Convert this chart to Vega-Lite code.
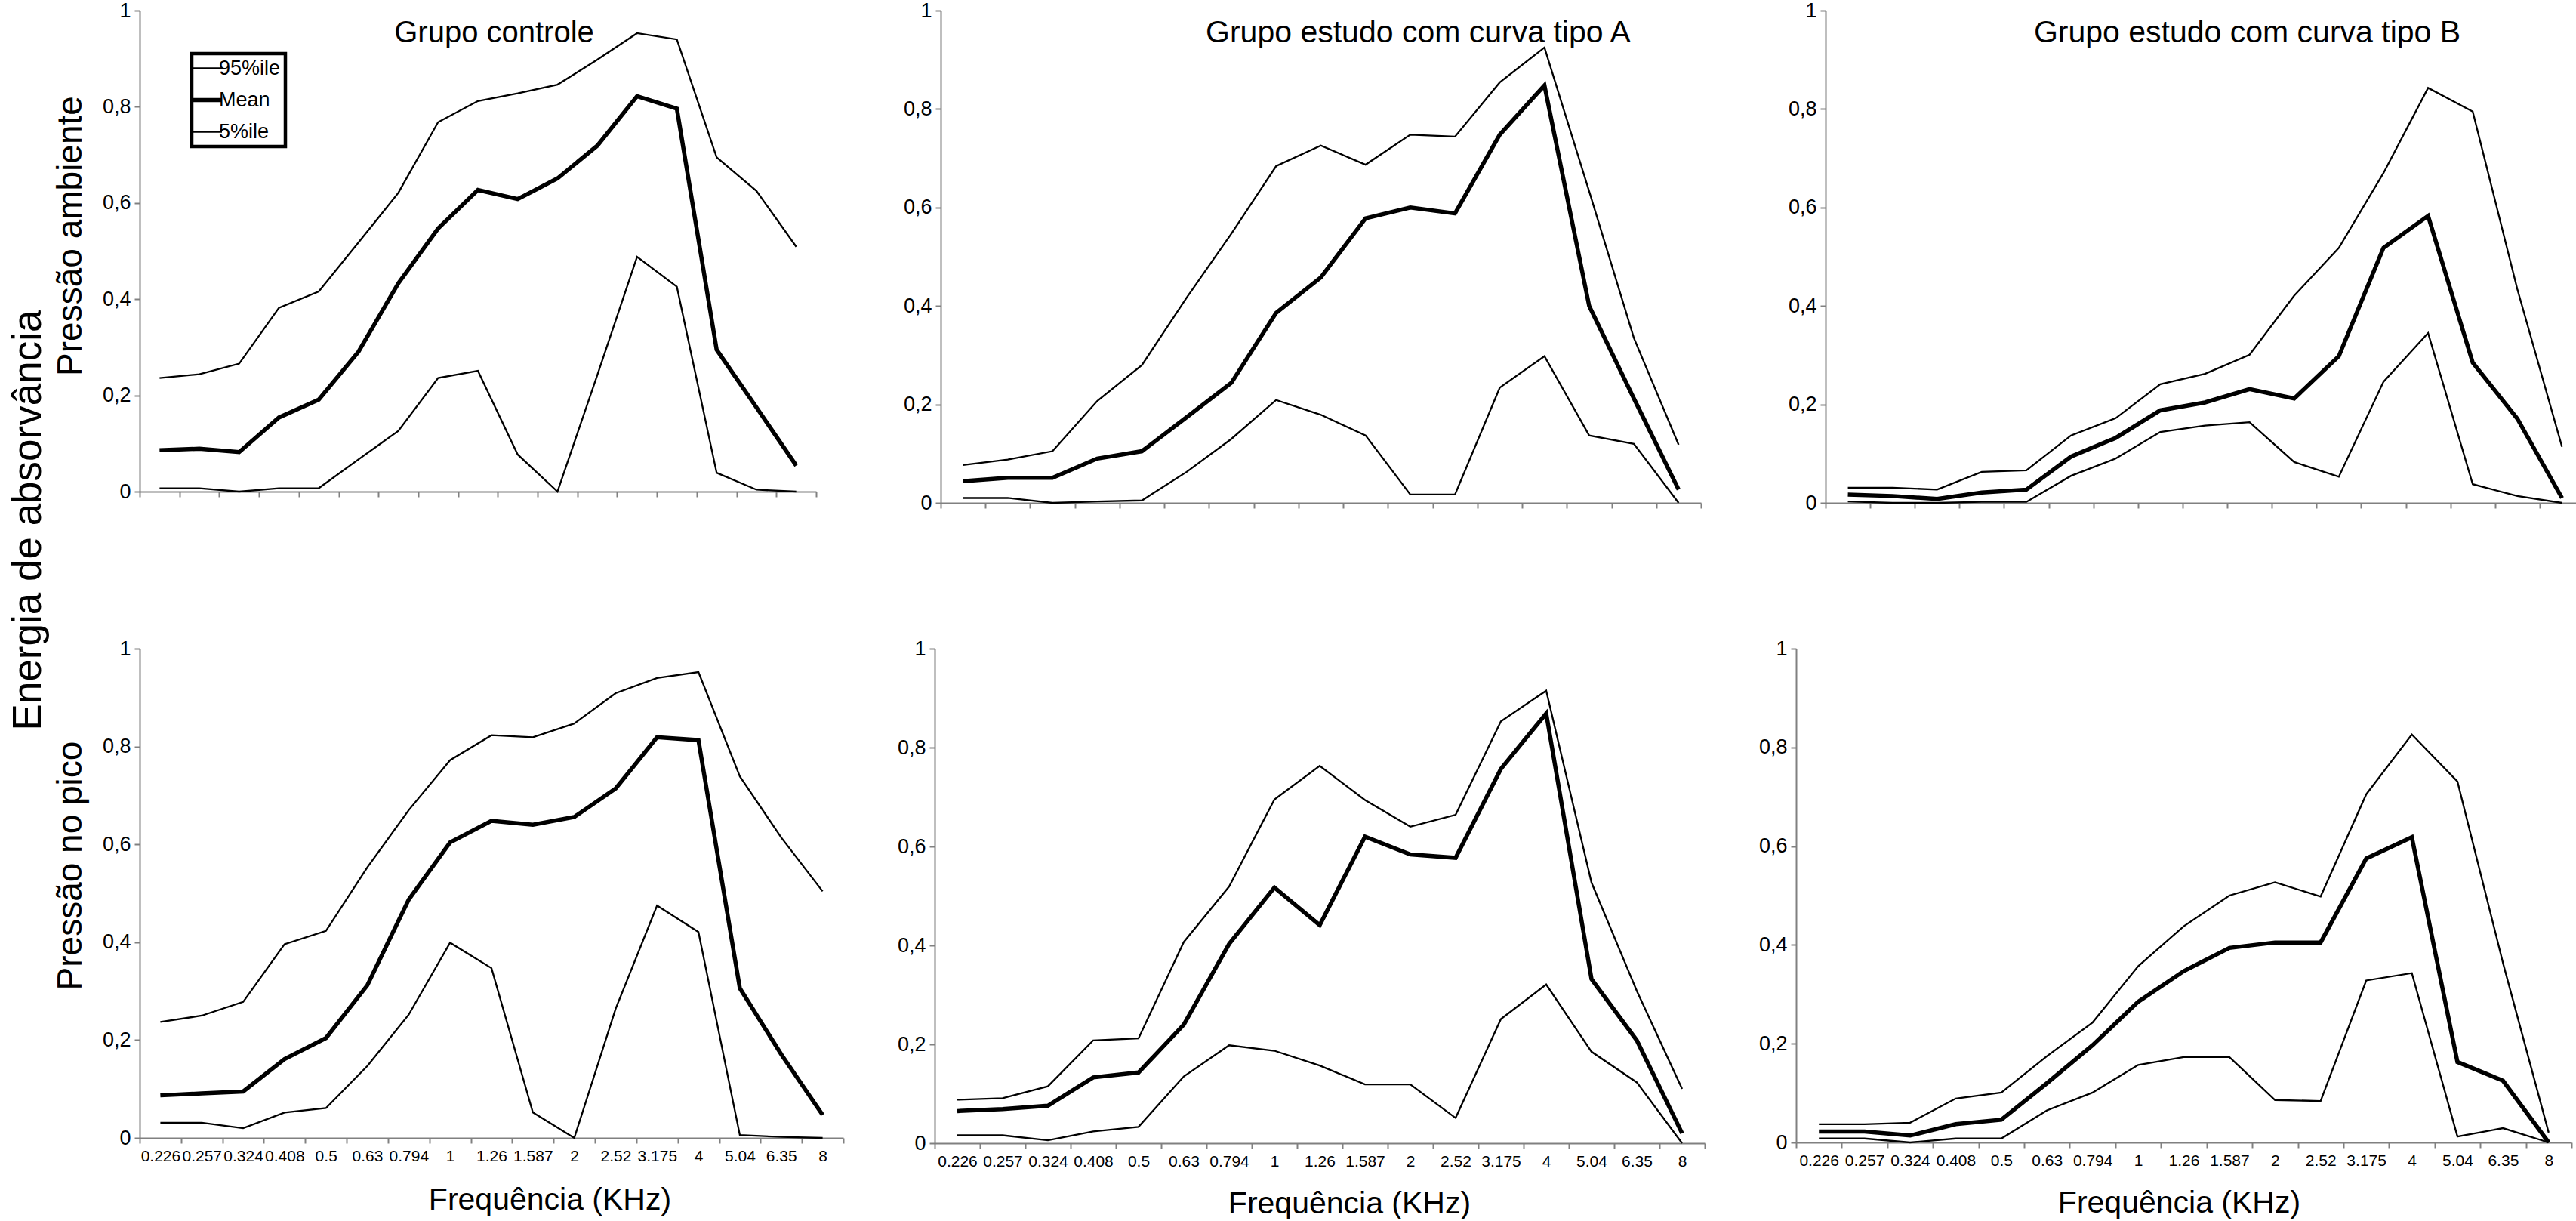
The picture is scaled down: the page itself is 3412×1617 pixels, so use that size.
{
  "$schema": "https://vega.github.io/schema/vega-lite/v6.json",
  "description": "Energia de absorvancia por frequencia, tres grupos, duas pressoes",
  "padding": {"left": 12, "top": 0, "right": 0, "bottom": 0},
  "autosize": {"type": "pad"},
  "title": {
    "text": "Energia de absorvância",
    "orient": "left",
    "anchor": "middle",
    "fontSize": 53,
    "fontWeight": "normal",
    "color": "black",
    "offset": 5,
    "dx": 118
  },
  "datasets": {
    "d": [
      {"p":"TL","s":"95%ile","f":"0.226","v":0.236},{"p":"TL","s":"95%ile","f":"0.257","v":0.244},{"p":"TL","s":"95%ile","f":"0.324","v":0.266},{"p":"TL","s":"95%ile","f":"0.408","v":0.382},{"p":"TL","s":"95%ile","f":"0.5","v":0.416},{"p":"TL","s":"95%ile","f":"0.63","v":0.518},{"p":"TL","s":"95%ile","f":"0.794","v":0.621},{"p":"TL","s":"95%ile","f":"1","v":0.768},{"p":"TL","s":"95%ile","f":"1.26","v":0.812},{"p":"TL","s":"95%ile","f":"1.587","v":0.828},{"p":"TL","s":"95%ile","f":"2","v":0.846},{"p":"TL","s":"95%ile","f":"2.52","v":0.898},{"p":"TL","s":"95%ile","f":"3.175","v":0.953},{"p":"TL","s":"95%ile","f":"4","v":0.940},{"p":"TL","s":"95%ile","f":"5.04","v":0.695},{"p":"TL","s":"95%ile","f":"6.35","v":0.625},{"p":"TL","s":"95%ile","f":"8","v":0.509},
      {"p":"TL","s":"Mean","f":"0.226","v":0.086},{"p":"TL","s":"Mean","f":"0.257","v":0.089},{"p":"TL","s":"Mean","f":"0.324","v":0.082},{"p":"TL","s":"Mean","f":"0.408","v":0.154},{"p":"TL","s":"Mean","f":"0.5","v":0.191},{"p":"TL","s":"Mean","f":"0.63","v":0.291},{"p":"TL","s":"Mean","f":"0.794","v":0.433},{"p":"TL","s":"Mean","f":"1","v":0.547},{"p":"TL","s":"Mean","f":"1.26","v":0.627},{"p":"TL","s":"Mean","f":"1.587","v":0.608},{"p":"TL","s":"Mean","f":"2","v":0.651},{"p":"TL","s":"Mean","f":"2.52","v":0.719},{"p":"TL","s":"Mean","f":"3.175","v":0.822},{"p":"TL","s":"Mean","f":"4","v":0.796},{"p":"TL","s":"Mean","f":"5.04","v":0.295},{"p":"TL","s":"Mean","f":"6.35","v":0.175},{"p":"TL","s":"Mean","f":"8","v":0.054},
      {"p":"TL","s":"5%ile","f":"0.226","v":0.007},{"p":"TL","s":"5%ile","f":"0.257","v":0.007},{"p":"TL","s":"5%ile","f":"0.324","v":0.000},{"p":"TL","s":"5%ile","f":"0.408","v":0.007},{"p":"TL","s":"5%ile","f":"0.5","v":0.007},{"p":"TL","s":"5%ile","f":"0.63","v":0.067},{"p":"TL","s":"5%ile","f":"0.794","v":0.126},{"p":"TL","s":"5%ile","f":"1","v":0.236},{"p":"TL","s":"5%ile","f":"1.26","v":0.251},{"p":"TL","s":"5%ile","f":"1.587","v":0.077},{"p":"TL","s":"5%ile","f":"2","v":0.000},{"p":"TL","s":"5%ile","f":"2.52","v":0.242},{"p":"TL","s":"5%ile","f":"3.175","v":0.488},{"p":"TL","s":"5%ile","f":"4","v":0.426},{"p":"TL","s":"5%ile","f":"5.04","v":0.039},{"p":"TL","s":"5%ile","f":"6.35","v":0.004},{"p":"TL","s":"5%ile","f":"8","v":0.000},

      {"p":"TM","s":"95%ile","f":"0.226","v":0.077},{"p":"TM","s":"95%ile","f":"0.257","v":0.088},{"p":"TM","s":"95%ile","f":"0.324","v":0.105},{"p":"TM","s":"95%ile","f":"0.408","v":0.207},{"p":"TM","s":"95%ile","f":"0.5","v":0.280},{"p":"TM","s":"95%ile","f":"0.63","v":0.417},{"p":"TM","s":"95%ile","f":"0.794","v":0.547},{"p":"TM","s":"95%ile","f":"1","v":0.684},{"p":"TM","s":"95%ile","f":"1.26","v":0.726},{"p":"TM","s":"95%ile","f":"1.587","v":0.687},{"p":"TM","s":"95%ile","f":"2","v":0.748},{"p":"TM","s":"95%ile","f":"2.52","v":0.744},{"p":"TM","s":"95%ile","f":"3.175","v":0.854},{"p":"TM","s":"95%ile","f":"4","v":0.925},{"p":"TM","s":"95%ile","f":"5.04","v":0.633},{"p":"TM","s":"95%ile","f":"6.35","v":0.335},{"p":"TM","s":"95%ile","f":"8","v":0.118},
      {"p":"TM","s":"Mean","f":"0.226","v":0.044},{"p":"TM","s":"Mean","f":"0.257","v":0.051},{"p":"TM","s":"Mean","f":"0.324","v":0.051},{"p":"TM","s":"Mean","f":"0.408","v":0.090},{"p":"TM","s":"Mean","f":"0.5","v":0.105},{"p":"TM","s":"Mean","f":"0.63","v":0.174},{"p":"TM","s":"Mean","f":"0.794","v":0.244},{"p":"TM","s":"Mean","f":"1","v":0.386},{"p":"TM","s":"Mean","f":"1.26","v":0.458},{"p":"TM","s":"Mean","f":"1.587","v":0.578},{"p":"TM","s":"Mean","f":"2","v":0.600},{"p":"TM","s":"Mean","f":"2.52","v":0.588},{"p":"TM","s":"Mean","f":"3.175","v":0.748},{"p":"TM","s":"Mean","f":"4","v":0.848},{"p":"TM","s":"Mean","f":"5.04","v":0.400},{"p":"TM","s":"Mean","f":"6.35","v":0.212},{"p":"TM","s":"Mean","f":"8","v":0.027},
      {"p":"TM","s":"5%ile","f":"0.226","v":0.010},{"p":"TM","s":"5%ile","f":"0.257","v":0.010},{"p":"TM","s":"5%ile","f":"0.324","v":0.000},{"p":"TM","s":"5%ile","f":"0.408","v":0.003},{"p":"TM","s":"5%ile","f":"0.5","v":0.005},{"p":"TM","s":"5%ile","f":"0.63","v":0.063},{"p":"TM","s":"5%ile","f":"0.794","v":0.130},{"p":"TM","s":"5%ile","f":"1","v":0.209},{"p":"TM","s":"5%ile","f":"1.26","v":0.179},{"p":"TM","s":"5%ile","f":"1.587","v":0.137},{"p":"TM","s":"5%ile","f":"2","v":0.017},{"p":"TM","s":"5%ile","f":"2.52","v":0.017},{"p":"TM","s":"5%ile","f":"3.175","v":0.234},{"p":"TM","s":"5%ile","f":"4","v":0.298},{"p":"TM","s":"5%ile","f":"5.04","v":0.137},{"p":"TM","s":"5%ile","f":"6.35","v":0.120},{"p":"TM","s":"5%ile","f":"8","v":0.000},

      {"p":"TR","s":"95%ile","f":"0.226","v":0.031},{"p":"TR","s":"95%ile","f":"0.257","v":0.031},{"p":"TR","s":"95%ile","f":"0.324","v":0.027},{"p":"TR","s":"95%ile","f":"0.408","v":0.063},{"p":"TR","s":"95%ile","f":"0.5","v":0.066},{"p":"TR","s":"95%ile","f":"0.63","v":0.137},{"p":"TR","s":"95%ile","f":"0.794","v":0.172},{"p":"TR","s":"95%ile","f":"1","v":0.241},{"p":"TR","s":"95%ile","f":"1.26","v":0.262},{"p":"TR","s":"95%ile","f":"1.587","v":0.301},{"p":"TR","s":"95%ile","f":"2","v":0.421},{"p":"TR","s":"95%ile","f":"2.52","v":0.518},{"p":"TR","s":"95%ile","f":"3.175","v":0.670},{"p":"TR","s":"95%ile","f":"4","v":0.843},{"p":"TR","s":"95%ile","f":"5.04","v":0.795},{"p":"TR","s":"95%ile","f":"6.35","v":0.434},{"p":"TR","s":"95%ile","f":"8","v":0.114},
      {"p":"TR","s":"Mean","f":"0.226","v":0.017},{"p":"TR","s":"Mean","f":"0.257","v":0.014},{"p":"TR","s":"Mean","f":"0.324","v":0.008},{"p":"TR","s":"Mean","f":"0.408","v":0.021},{"p":"TR","s":"Mean","f":"0.5","v":0.027},{"p":"TR","s":"Mean","f":"0.63","v":0.094},{"p":"TR","s":"Mean","f":"0.794","v":0.132},{"p":"TR","s":"Mean","f":"1","v":0.188},{"p":"TR","s":"Mean","f":"1.26","v":0.204},{"p":"TR","s":"Mean","f":"1.587","v":0.231},{"p":"TR","s":"Mean","f":"2","v":0.212},{"p":"TR","s":"Mean","f":"2.52","v":0.298},{"p":"TR","s":"Mean","f":"3.175","v":0.518},{"p":"TR","s":"Mean","f":"4","v":0.583},{"p":"TR","s":"Mean","f":"5.04","v":0.285},{"p":"TR","s":"Mean","f":"6.35","v":0.171},{"p":"TR","s":"Mean","f":"8","v":0.010},
      {"p":"TR","s":"5%ile","f":"0.226","v":0.003},{"p":"TR","s":"5%ile","f":"0.257","v":0.000},{"p":"TR","s":"5%ile","f":"0.324","v":0.000},{"p":"TR","s":"5%ile","f":"0.408","v":0.002},{"p":"TR","s":"5%ile","f":"0.5","v":0.002},{"p":"TR","s":"5%ile","f":"0.63","v":0.055},{"p":"TR","s":"5%ile","f":"0.794","v":0.090},{"p":"TR","s":"5%ile","f":"1","v":0.144},{"p":"TR","s":"5%ile","f":"1.26","v":0.157},{"p":"TR","s":"5%ile","f":"1.587","v":0.164},{"p":"TR","s":"5%ile","f":"2","v":0.083},{"p":"TR","s":"5%ile","f":"2.52","v":0.053},{"p":"TR","s":"5%ile","f":"3.175","v":0.246},{"p":"TR","s":"5%ile","f":"4","v":0.345},{"p":"TR","s":"5%ile","f":"5.04","v":0.038},{"p":"TR","s":"5%ile","f":"6.35","v":0.014},{"p":"TR","s":"5%ile","f":"8","v":0.000},

      {"p":"BL","s":"95%ile","f":"0.226","v":0.237},{"p":"BL","s":"95%ile","f":"0.257","v":0.250},{"p":"BL","s":"95%ile","f":"0.324","v":0.278},{"p":"BL","s":"95%ile","f":"0.408","v":0.396},{"p":"BL","s":"95%ile","f":"0.5","v":0.423},{"p":"BL","s":"95%ile","f":"0.63","v":0.553},{"p":"BL","s":"95%ile","f":"0.794","v":0.670},{"p":"BL","s":"95%ile","f":"1","v":0.772},{"p":"BL","s":"95%ile","f":"1.26","v":0.823},{"p":"BL","s":"95%ile","f":"1.587","v":0.819},{"p":"BL","s":"95%ile","f":"2","v":0.847},{"p":"BL","s":"95%ile","f":"2.52","v":0.909},{"p":"BL","s":"95%ile","f":"3.175","v":0.940},{"p":"BL","s":"95%ile","f":"4","v":0.952},{"p":"BL","s":"95%ile","f":"5.04","v":0.739},{"p":"BL","s":"95%ile","f":"6.35","v":0.614},{"p":"BL","s":"95%ile","f":"8","v":0.504},
      {"p":"BL","s":"Mean","f":"0.226","v":0.087},{"p":"BL","s":"Mean","f":"0.257","v":0.091},{"p":"BL","s":"Mean","f":"0.324","v":0.095},{"p":"BL","s":"Mean","f":"0.408","v":0.161},{"p":"BL","s":"Mean","f":"0.5","v":0.204},{"p":"BL","s":"Mean","f":"0.63","v":0.312},{"p":"BL","s":"Mean","f":"0.794","v":0.487},{"p":"BL","s":"Mean","f":"1","v":0.604},{"p":"BL","s":"Mean","f":"1.26","v":0.648},{"p":"BL","s":"Mean","f":"1.587","v":0.640},{"p":"BL","s":"Mean","f":"2","v":0.656},{"p":"BL","s":"Mean","f":"2.52","v":0.714},{"p":"BL","s":"Mean","f":"3.175","v":0.819},{"p":"BL","s":"Mean","f":"4","v":0.813},{"p":"BL","s":"Mean","f":"5.04","v":0.306},{"p":"BL","s":"Mean","f":"6.35","v":0.171},{"p":"BL","s":"Mean","f":"8","v":0.047},
      {"p":"BL","s":"5%ile","f":"0.226","v":0.031},{"p":"BL","s":"5%ile","f":"0.257","v":0.031},{"p":"BL","s":"5%ile","f":"0.324","v":0.020},{"p":"BL","s":"5%ile","f":"0.408","v":0.052},{"p":"BL","s":"5%ile","f":"0.5","v":0.061},{"p":"BL","s":"5%ile","f":"0.63","v":0.147},{"p":"BL","s":"5%ile","f":"0.794","v":0.252},{"p":"BL","s":"5%ile","f":"1","v":0.399},{"p":"BL","s":"5%ile","f":"1.26","v":0.347},{"p":"BL","s":"5%ile","f":"1.587","v":0.052},{"p":"BL","s":"5%ile","f":"2","v":0.000},{"p":"BL","s":"5%ile","f":"2.52","v":0.264},{"p":"BL","s":"5%ile","f":"3.175","v":0.475},{"p":"BL","s":"5%ile","f":"4","v":0.421},{"p":"BL","s":"5%ile","f":"5.04","v":0.006},{"p":"BL","s":"5%ile","f":"6.35","v":0.002},{"p":"BL","s":"5%ile","f":"8","v":0.000},

      {"p":"BM","s":"95%ile","f":"0.226","v":0.088},{"p":"BM","s":"95%ile","f":"0.257","v":0.091},{"p":"BM","s":"95%ile","f":"0.324","v":0.115},{"p":"BM","s":"95%ile","f":"0.408","v":0.208},{"p":"BM","s":"95%ile","f":"0.5","v":0.212},{"p":"BM","s":"95%ile","f":"0.63","v":0.407},{"p":"BM","s":"95%ile","f":"0.794","v":0.519},{"p":"BM","s":"95%ile","f":"1","v":0.695},{"p":"BM","s":"95%ile","f":"1.26","v":0.763},{"p":"BM","s":"95%ile","f":"1.587","v":0.694},{"p":"BM","s":"95%ile","f":"2","v":0.640},{"p":"BM","s":"95%ile","f":"2.52","v":0.664},{"p":"BM","s":"95%ile","f":"3.175","v":0.853},{"p":"BM","s":"95%ile","f":"4","v":0.915},{"p":"BM","s":"95%ile","f":"5.04","v":0.527},{"p":"BM","s":"95%ile","f":"6.35","v":0.308},{"p":"BM","s":"95%ile","f":"8","v":0.110},
      {"p":"BM","s":"Mean","f":"0.226","v":0.065},{"p":"BM","s":"Mean","f":"0.257","v":0.069},{"p":"BM","s":"Mean","f":"0.324","v":0.076},{"p":"BM","s":"Mean","f":"0.408","v":0.133},{"p":"BM","s":"Mean","f":"0.5","v":0.143},{"p":"BM","s":"Mean","f":"0.63","v":0.240},{"p":"BM","s":"Mean","f":"0.794","v":0.403},{"p":"BM","s":"Mean","f":"1","v":0.517},{"p":"BM","s":"Mean","f":"1.26","v":0.441},{"p":"BM","s":"Mean","f":"1.587","v":0.620},{"p":"BM","s":"Mean","f":"2","v":0.584},{"p":"BM","s":"Mean","f":"2.52","v":0.577},{"p":"BM","s":"Mean","f":"3.175","v":0.757},{"p":"BM","s":"Mean","f":"4","v":0.869},{"p":"BM","s":"Mean","f":"5.04","v":0.332},{"p":"BM","s":"Mean","f":"6.35","v":0.208},{"p":"BM","s":"Mean","f":"8","v":0.020},
      {"p":"BM","s":"5%ile","f":"0.226","v":0.016},{"p":"BM","s":"5%ile","f":"0.257","v":0.016},{"p":"BM","s":"5%ile","f":"0.324","v":0.006},{"p":"BM","s":"5%ile","f":"0.408","v":0.024},{"p":"BM","s":"5%ile","f":"0.5","v":0.033},{"p":"BM","s":"5%ile","f":"0.63","v":0.135},{"p":"BM","s":"5%ile","f":"0.794","v":0.198},{"p":"BM","s":"5%ile","f":"1","v":0.187},{"p":"BM","s":"5%ile","f":"1.26","v":0.157},{"p":"BM","s":"5%ile","f":"1.587","v":0.119},{"p":"BM","s":"5%ile","f":"2","v":0.119},{"p":"BM","s":"5%ile","f":"2.52","v":0.051},{"p":"BM","s":"5%ile","f":"3.175","v":0.251},{"p":"BM","s":"5%ile","f":"4","v":0.321},{"p":"BM","s":"5%ile","f":"5.04","v":0.185},{"p":"BM","s":"5%ile","f":"6.35","v":0.123},{"p":"BM","s":"5%ile","f":"8","v":0.000},

      {"p":"BR","s":"95%ile","f":"0.226","v":0.037},{"p":"BR","s":"95%ile","f":"0.257","v":0.037},{"p":"BR","s":"95%ile","f":"0.324","v":0.040},{"p":"BR","s":"95%ile","f":"0.408","v":0.089},{"p":"BR","s":"95%ile","f":"0.5","v":0.101},{"p":"BR","s":"95%ile","f":"0.63","v":0.175},{"p":"BR","s":"95%ile","f":"0.794","v":0.243},{"p":"BR","s":"95%ile","f":"1","v":0.357},{"p":"BR","s":"95%ile","f":"1.26","v":0.438},{"p":"BR","s":"95%ile","f":"1.587","v":0.500},{"p":"BR","s":"95%ile","f":"2","v":0.527},{"p":"BR","s":"95%ile","f":"2.52","v":0.498},{"p":"BR","s":"95%ile","f":"3.175","v":0.705},{"p":"BR","s":"95%ile","f":"4","v":0.826},{"p":"BR","s":"95%ile","f":"5.04","v":0.731},{"p":"BR","s":"95%ile","f":"6.35","v":0.363},{"p":"BR","s":"95%ile","f":"8","v":0.020},
      {"p":"BR","s":"Mean","f":"0.226","v":0.022},{"p":"BR","s":"Mean","f":"0.257","v":0.022},{"p":"BR","s":"Mean","f":"0.324","v":0.014},{"p":"BR","s":"Mean","f":"0.408","v":0.037},{"p":"BR","s":"Mean","f":"0.5","v":0.046},{"p":"BR","s":"Mean","f":"0.63","v":0.120},{"p":"BR","s":"Mean","f":"0.794","v":0.197},{"p":"BR","s":"Mean","f":"1","v":0.285},{"p":"BR","s":"Mean","f":"1.26","v":0.347},{"p":"BR","s":"Mean","f":"1.587","v":0.394},{"p":"BR","s":"Mean","f":"2","v":0.405},{"p":"BR","s":"Mean","f":"2.52","v":0.405},{"p":"BR","s":"Mean","f":"3.175","v":0.575},{"p":"BR","s":"Mean","f":"4","v":0.618},{"p":"BR","s":"Mean","f":"5.04","v":0.163},{"p":"BR","s":"Mean","f":"6.35","v":0.125},{"p":"BR","s":"Mean","f":"8","v":0.000},
      {"p":"BR","s":"5%ile","f":"0.226","v":0.008},{"p":"BR","s":"5%ile","f":"0.257","v":0.008},{"p":"BR","s":"5%ile","f":"0.324","v":0.000},{"p":"BR","s":"5%ile","f":"0.408","v":0.008},{"p":"BR","s":"5%ile","f":"0.5","v":0.008},{"p":"BR","s":"5%ile","f":"0.63","v":0.065},{"p":"BR","s":"5%ile","f":"0.794","v":0.101},{"p":"BR","s":"5%ile","f":"1","v":0.157},{"p":"BR","s":"5%ile","f":"1.26","v":0.173},{"p":"BR","s":"5%ile","f":"1.587","v":0.173},{"p":"BR","s":"5%ile","f":"2","v":0.086},{"p":"BR","s":"5%ile","f":"2.52","v":0.084},{"p":"BR","s":"5%ile","f":"3.175","v":0.328},{"p":"BR","s":"5%ile","f":"4","v":0.343},{"p":"BR","s":"5%ile","f":"5.04","v":0.012},{"p":"BR","s":"5%ile","f":"6.35","v":0.029},{"p":"BR","s":"5%ile","f":"8","v":0.000}
    ]
  },
  "data": {"name": "d"},
  "spacing": 166,
  "vconcat": [
    {
      "spacing": 114,
      "hconcat": [
        {
          "width": 896,
          "height": 637,
          "transform": [{"filter": "datum.p == 'TL'"}],
          "mark": {"type": "line"},
          "encoding": {
            "x": {"field": "f", "type": "ordinal", "bandPosition": 0.5,
              "scale": {"type": "band", "paddingInner": 0, "paddingOuter": 0, "domain": ["0.226","0.257","0.324","0.408","0.5","0.63","0.794","1","1.26","1.587","2","2.52","3.175","4","5.04","6.35","8"]},
              "axis": {"title": "Grupo controle", "titleFontSize": 40, "titleX": 469, "titleY": -596, "labels": false, "tickBand": "extent", "tickSize": 7}},
            "y": {"field": "v", "type": "quantitative", "scale": {"domain": [0, 1], "nice": false},
              "axis": {"title": "Pressão ambiente", "values": [0, 0.2, 0.4, 0.6, 0.8, 1], "titleY": 298}},
            "color": {"field": "s", "type": "nominal", "scale": {"domain": ["95%ile","Mean","5%ile"], "range": ["black","black","black"]},
              "legend": {"title": null, "orient": "none", "legendX": 69, "legendY": 57, "symbolType": "stroke", "symbolSize": 1681, "labelFontSize": 27, "labelOffset": 3, "rowPadding": 14, "padding": 6, "strokeColor": "black",
                "encode": {"legend": {"update": {"strokeWidth": {"value": 4.5}}}, "symbols": {"update": {"strokeWidth": {"signal": "datum.value == 'Mean' ? 5.5 : 2.3"}, "stroke": {"value": "black"}}}}}},
            "strokeWidth": {"condition": {"test": "datum.s == 'Mean'", "value": 5.5}, "value": 2.3}
          }
        },
        {
          "width": 1007,
          "height": 652,
          "transform": [{"filter": "datum.p == 'TM'"}],
          "mark": {"type": "line"},
          "encoding": {
            "x": {"field": "f", "type": "ordinal", "bandPosition": 0.5,
              "scale": {"type": "band", "paddingInner": 0, "paddingOuter": 0, "domain": ["0.226","0.257","0.324","0.408","0.5","0.63","0.794","1","1.26","1.587","2","2.52","3.175","4","5.04","6.35","8"]},
              "axis": {"title": "Grupo estudo com curva tipo A", "titleX": 632, "titleY": -611, "labels": false, "tickBand": "extent", "tickSize": 7}},
            "y": {"field": "v", "type": "quantitative", "scale": {"domain": [0, 1], "nice": false},
              "axis": {"title": null, "values": [0, 0.2, 0.4, 0.6, 0.8, 1]}},
            "color": {"field": "s", "type": "nominal", "scale": {"domain": ["95%ile","Mean","5%ile"], "range": ["black","black","black"]}},
            "strokeWidth": {"condition": {"test": "datum.s == 'Mean'", "value": 5.5}, "value": 2.3}
          }
        },
        {
          "width": 1005,
          "height": 652,
          "transform": [{"filter": "datum.p == 'TR'"}],
          "mark": {"type": "line"},
          "encoding": {
            "x": {"field": "f", "type": "ordinal", "bandPosition": 0.5,
              "scale": {"type": "band", "paddingInner": 0, "paddingOuter": 0, "domain": ["0.226","0.257","0.324","0.408","0.5","0.63","0.794","1","1.26","1.587","2","2.52","3.175","4","5.04","6.35","8"]},
              "axis": {"title": "Grupo estudo com curva tipo B", "titleX": 558, "titleY": -611, "labels": false, "tickBand": "extent", "tickSize": 7}},
            "y": {"field": "v", "type": "quantitative", "scale": {"domain": [0, 1], "nice": false},
              "axis": {"title": null, "values": [0, 0.2, 0.4, 0.6, 0.8, 1]}},
            "color": {"field": "s", "type": "nominal", "scale": {"domain": ["95%ile","Mean","5%ile"], "range": ["black","black","black"]}},
            "strokeWidth": {"condition": {"test": "datum.s == 'Mean'", "value": 5.5}, "value": 2.3}
          }
        }
      ]
    },
    {
      "spacing": 70,
      "hconcat": [
        {
          "width": 932,
          "height": 648,
          "transform": [{"filter": "datum.p == 'BL'"}],
          "mark": {"type": "line"},
          "encoding": {
            "x": {"field": "f", "type": "ordinal", "bandPosition": 0.5,
              "scale": {"type": "band", "paddingInner": 0, "paddingOuter": 0, "domain": ["0.226","0.257","0.324","0.408","0.5","0.63","0.794","1","1.26","1.587","2","2.52","3.175","4","5.04","6.35","8"]},
              "axis": {"title": "Frequência (KHz)", "tickBand": "extent", "tickSize": 7, "titleX": 543, "titleY": 94}},
            "y": {"field": "v", "type": "quantitative", "scale": {"domain": [0, 1], "nice": false},
              "axis": {"title": "Pressão no pico", "values": [0, 0.2, 0.4, 0.6, 0.8, 1], "titleY": 287}},
            "color": {"field": "s", "type": "nominal", "scale": {"domain": ["95%ile","Mean","5%ile"], "range": ["black","black","black"]}},
            "strokeWidth": {"condition": {"test": "datum.s == 'Mean'", "value": 5.5}, "value": 2.3}
          }
        },
        {
          "width": 1020,
          "height": 655,
          "transform": [{"filter": "datum.p == 'BM'"}],
          "mark": {"type": "line"},
          "encoding": {
            "x": {"field": "f", "type": "ordinal", "bandPosition": 0.5,
              "scale": {"type": "band", "paddingInner": 0, "paddingOuter": 0, "domain": ["0.226","0.257","0.324","0.408","0.5","0.63","0.794","1","1.26","1.587","2","2.52","3.175","4","5.04","6.35","8"]},
              "axis": {"title": "Frequência (KHz)", "tickBand": "extent", "tickSize": 7, "titleX": 549, "titleY": 92}},
            "y": {"field": "v", "type": "quantitative", "scale": {"domain": [0, 1], "nice": false},
              "axis": {"title": null, "values": [0, 0.2, 0.4, 0.6, 0.8, 1]}},
            "color": {"field": "s", "type": "nominal", "scale": {"domain": ["95%ile","Mean","5%ile"], "range": ["black","black","black"]}},
            "strokeWidth": {"condition": {"test": "datum.s == 'Mean'", "value": 5.5}, "value": 2.3}
          }
        },
        {
          "width": 1027,
          "height": 654,
          "transform": [{"filter": "datum.p == 'BR'"}],
          "mark": {"type": "line"},
          "encoding": {
            "x": {"field": "f", "type": "ordinal", "bandPosition": 0.5,
              "scale": {"type": "band", "paddingInner": 0, "paddingOuter": 0, "domain": ["0.226","0.257","0.324","0.408","0.5","0.63","0.794","1","1.26","1.587","2","2.52","3.175","4","5.04","6.35","8"]},
              "axis": {"title": "Frequência (KHz)", "tickBand": "extent", "tickSize": 7, "titleX": 507, "titleY": 92}},
            "y": {"field": "v", "type": "quantitative", "scale": {"domain": [0, 1], "nice": false},
              "axis": {"title": null, "values": [0, 0.2, 0.4, 0.6, 0.8, 1]}},
            "color": {"field": "s", "type": "nominal", "scale": {"domain": ["95%ile","Mean","5%ile"], "range": ["black","black","black"]}},
            "strokeWidth": {"condition": {"test": "datum.s == 'Mean'", "value": 5.5}, "value": 2.3}
          }
        }
      ]
    }
  ],
  "config": {
    "font": "Liberation Sans",
    "view": {"stroke": null},
    "title": {"color": "black", "fontWeight": "normal"},
    "axis": {
      "grid": false,
      "domainColor": "#808080",
      "domainWidth": 2,
      "tickColor": "#808080",
      "tickWidth": 2,
      "labelColor": "black",
      "titleColor": "black",
      "titleFontWeight": "normal",
      "labelFont": "Liberation Sans",
      "titleFont": "Liberation Sans"
    },
    "axisY": {
      "tickSize": 7,
      "labelPadding": 5,
      "labelFontSize": 27,
      "labelExpr": "replace(format(datum.value, '.1~f'), '.', ',')",
      "titleFontSize": 46,
      "titlePadding": 18
    },
    "axisX": {
      "labelAngle": 0,
      "labelFontSize": 21,
      "labelPadding": 6,
      "labelOverlap": false,
      "labelBound": false,
      "titleFontSize": 41,
      "titleBaseline": "alphabetic",
      "titleAlign": "center"
    },
    "legend": {"labelFont": "Liberation Sans", "labelColor": "black"}
  }
}
